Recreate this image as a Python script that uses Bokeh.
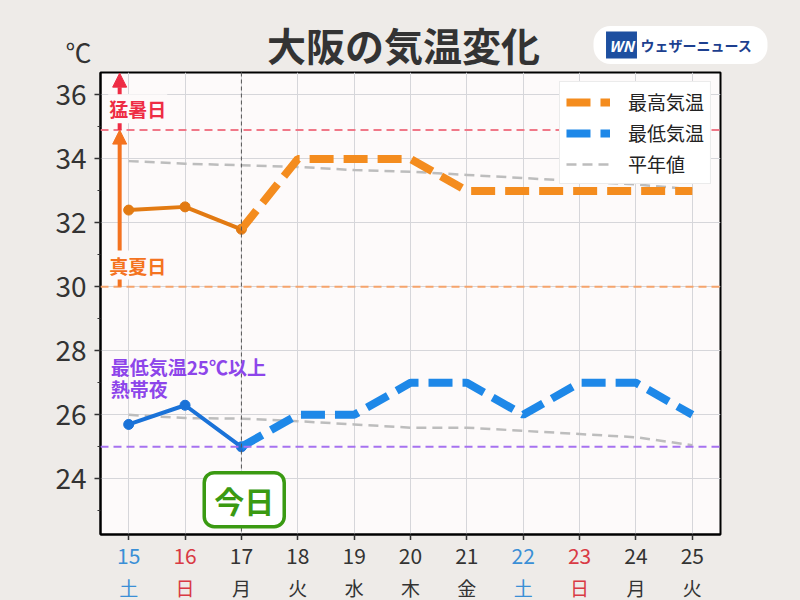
from bokeh.plotting import figure
from bokeh.layouts import column, row
from bokeh.models import (Span, Label, Arrow, NormalHead, FixedTicker, Legend,
                          LegendItem, Range1d)
from bokeh.core.properties import value
from bokeh.embed import file_html
from bokeh.resources import INLINE

# ---------------- data ----------------
days = [15, 16, 17, 18, 19, 20, 21, 22, 23, 24, 25]
weekdays = ["土", "日", "月", "火", "水", "木", "金", "土", "日", "月", "火"]
day_colors = ["#3a8fd6", "#d93a44", "#333333", "#333333", "#333333", "#333333",
              "#333333", "#3a8fd6", "#d93a44", "#333333", "#333333"]

obs_days = [15, 16, 17]
high_obs = [32.4, 32.5, 31.8]
low_obs = [25.7, 26.3, 25.0]

fc_days = [17, 18, 19, 20, 21, 22, 23, 24, 25]
high_fc = [31.8, 34, 34, 34, 33, 33, 33, 33, 33]
low_fc = [25.0, 26, 26, 27, 27, 26, 27, 27, 26]

normal_high = [33.93, 33.85, 33.8, 33.75, 33.65, 33.6, 33.5, 33.4, 33.3, 33.2, 33.05]
normal_low = [26.0, 25.9, 25.88, 25.8, 25.7, 25.6, 25.6, 25.5, 25.4, 25.3, 25.05]

y_ticks = [24, 26, 28, 30, 32, 34, 36]
y_minor = [23, 25, 27, 29, 31, 33, 35]

heat_line = 34.9      # 猛暑日
hot_line = 30         # 真夏日
night_line = 25       # 熱帯夜
today = 17

title_text = "大阪の気温変化"
unit_text = "℃"
brand_text = "ウェザーニュース"

FONT = "Noto Sans CJK JP"
PLOT_BG = "#fdfafa"
OUTER_BG = "#eeebe8"
W = 800

# ---------------- header ----------------
head = figure(width=W, height=70, x_range=Range1d(0, W), y_range=Range1d(70, 0),
              x_axis_type=None, y_axis_type=None, output_backend="svg",
              toolbar_location=None, min_border=0, min_border_left=0,
              min_border_right=0, min_border_top=0, min_border_bottom=0)
head.title.visible = False
head.outline_line_color = None
head.background_fill_color = OUTER_BG
head.border_fill_color = OUTER_BG
head.grid.visible = False
head.add_layout(Label(x=403, y=43, text=title_text, text_font=FONT, text_font_style="bold",
                      text_font_size="39px", text_color="#333333", text_align="center",
                      text_baseline="middle"))
head.add_layout(Label(x=78, y=51, text=unit_text, text_font=FONT, text_font_size="26px",
                      text_color="#333333", text_align="center", text_baseline="middle"))
head.add_layout(Label(x=680, y=44.5, text=brand_text, text_font=FONT, text_font_style="bold",
                      text_font_size="14px", text_color="#1d3f8f", text_align="center",
                      text_baseline="middle", background_fill_color="white", border_radius=17,
                      padding=dict(left=47, right=15, top=9, bottom=9)))
head.add_layout(Label(x=621, y=44.5, text="WN", text_font=FONT, text_font_style="bold italic",
                      text_font_size="15px", text_color="white", text_align="center",
                      text_baseline="middle", background_fill_color="#1d4fa0",
                      padding=dict(left=3, right=3, top=3, bottom=3)))

# ---------------- main chart ----------------
p = figure(width=W, height=470,
           x_range=Range1d(14.5, 25.5), y_range=Range1d(22.26, 36.7),
           output_backend="svg", toolbar_location=None,
           min_border_left=100, min_border_right=W - 720,
           min_border_top=2, min_border_bottom=6)
p.title.visible = False
p.background_fill_color = PLOT_BG
p.border_fill_color = OUTER_BG
p.outline_line_color = "black"
p.outline_line_width = 2

p.yaxis.ticker = FixedTicker(ticks=y_ticks, minor_ticks=y_minor)
p.yaxis.major_label_text_font = FONT
p.yaxis.major_label_text_font_size = "28px"
p.yaxis.major_label_text_color = "#333333"
p.yaxis.major_tick_out = 6
p.yaxis.major_tick_in = 0
p.yaxis.minor_tick_out = 3
p.yaxis.minor_tick_in = 0
p.yaxis.major_label_standoff = 8
p.xaxis.ticker = FixedTicker(ticks=days)
p.xaxis.major_label_overrides = {d: "" for d in days}
p.xaxis.major_label_text_font_size = "0px"
p.xaxis.major_label_standoff = 0
p.xaxis.major_tick_out = 6
p.xaxis.major_tick_in = 0
p.xaxis.minor_tick_line_color = None
for ax in (p.xaxis, p.yaxis):
    ax.axis_line_width = 2
    ax.axis_line_color = "black"
    ax.major_tick_line_color = "#333333"
    ax.major_tick_line_width = 1.5
p.yaxis.minor_tick_line_color = "#333333"

p.xgrid.grid_line_color = "#d6d6da"
p.ygrid.grid_line_color = "#d6d6da"

r_norm = p.line(days, normal_high, line_color="#bdbdbd", line_width=2.5, line_dash="10 6")
p.line(days, normal_low, line_color="#bdbdbd", line_width=2.5, line_dash="10 6")

for loc, col in [(heat_line, "#f07888"), (hot_line, "#f5a46c"), (night_line, "#a672f0")]:
    p.add_layout(Span(location=loc, dimension="width", line_color=col,
                      line_width=2, line_dash="8 5"))
p.add_layout(Span(location=today, dimension="height", line_color="#555555",
                  line_width=1, line_dash="4 3"))

p.line(obs_days, high_obs, line_color="#e27a12", line_width=4)
p.scatter(obs_days, high_obs, size=10, color="#e27a12")
p.line(obs_days, low_obs, line_color="#1a72d8", line_width=4)
p.scatter(obs_days, low_obs, size=10, color="#1a72d8")

r_high = p.line(fc_days, high_fc, line_color="#f48c1e", line_width=8, line_dash="24 10")
r_low = p.line(fc_days, low_fc, line_color="#1e88e8", line_width=8, line_dash="24 10")

arrow_x = 14.84
p.add_layout(Arrow(end=NormalHead(size=14, fill_color="#f47320", line_color="#f47320"),
                   x_start=arrow_x, y_start=hot_line, x_end=arrow_x, y_end=heat_line,
                   line_color="#f47320", line_width=4))
p.add_layout(Arrow(end=NormalHead(size=14, fill_color="#ee2c44", line_color="#ee2c44"),
                   x_start=arrow_x, y_start=heat_line, x_end=arrow_x, y_end=36.68,
                   line_color="#ee2c44", line_width=4))

p.add_layout(Label(x=15.16, y=35.57, text="猛暑日", text_font=FONT, text_font_style="bold",
                   text_font_size="19px", text_color="#ee2c44", text_align="center",
                   text_baseline="middle", background_fill_color=PLOT_BG, padding=1))
p.add_layout(Label(x=15.16, y=30.68, text="真夏日", text_font=FONT, text_font_style="bold",
                   text_font_size="19px", text_color="#f47320", text_align="center",
                   text_baseline="middle", background_fill_color=PLOT_BG, padding=1))
p.add_layout(Label(x=14.68, y=27.5, text="最低気温25℃以上", text_font=FONT,
                   text_font_style="bold", text_font_size="19px", text_color="#8d45ea",
                   text_align="left", text_baseline="middle"))
p.add_layout(Label(x=14.68, y=26.82, text="熱帯夜", text_font=FONT,
                   text_font_style="bold", text_font_size="19px", text_color="#8d45ea",
                   text_align="left", text_baseline="middle"))

p.add_layout(Label(x=17.05, y=23.35, text="今日", text_font=FONT, text_font_style="bold",
                   text_font_size="30px", text_color="#3a9a12", text_align="center",
                   text_baseline="middle", background_fill_color="white",
                   border_line_color="#3a9a12", border_line_width=3.5,
                   border_radius=10, padding=dict(left=10, right=10, top=5, bottom=5)))

legend = Legend(items=[LegendItem(label="最高気温", renderers=[r_high]),
                       LegendItem(label="最低気温", renderers=[r_low]),
                       LegendItem(label="平年値", renderers=[r_norm])],
                location="top_right")
legend.label_text_font = FONT
legend.label_text_font_size = "19px"
legend.label_text_color = "#222222"
legend.glyph_width = 44
legend.glyph_height = 20
legend.label_height = 26
legend.spacing = 4
legend.padding = 6
legend.margin = 9
legend.label_standoff = 18
legend.border_line_color = "#d8d8d8"
legend.background_fill_color = "white"
legend.background_fill_alpha = 1
p.add_layout(legend)

# ---------------- x tick labels (day / weekday) ----------------
FOOT_H = 600 - 70 - 470
foot = figure(width=W, height=FOOT_H, x_range=p.x_range, y_range=Range1d(FOOT_H, 0),
              x_axis_type=None, y_axis_type=None, output_backend="svg",
              toolbar_location=None, min_border_left=100, min_border_right=W - 720,
              min_border_top=0, min_border_bottom=0)
foot.title.visible = False
foot.outline_line_color = None
foot.background_fill_color = OUTER_BG
foot.border_fill_color = OUTER_BG
foot.grid.visible = False
foot.text(x=days, y=[15] * len(days), text=[str(d) for d in days], text_color=day_colors,
          text_font=value(FONT), text_font_size="21px",
          text_align="center", text_baseline="middle")
foot.text(x=days, y=[47] * len(days), text=weekdays, text_color=day_colors,
          text_font=value(FONT), text_font_size="19px",
          text_align="center", text_baseline="middle")

layout = column(row(head), column(p, foot, spacing=0), spacing=0,
                styles={"background-color": OUTER_BG})
open("out.html", "w").write(file_html(layout, INLINE))
